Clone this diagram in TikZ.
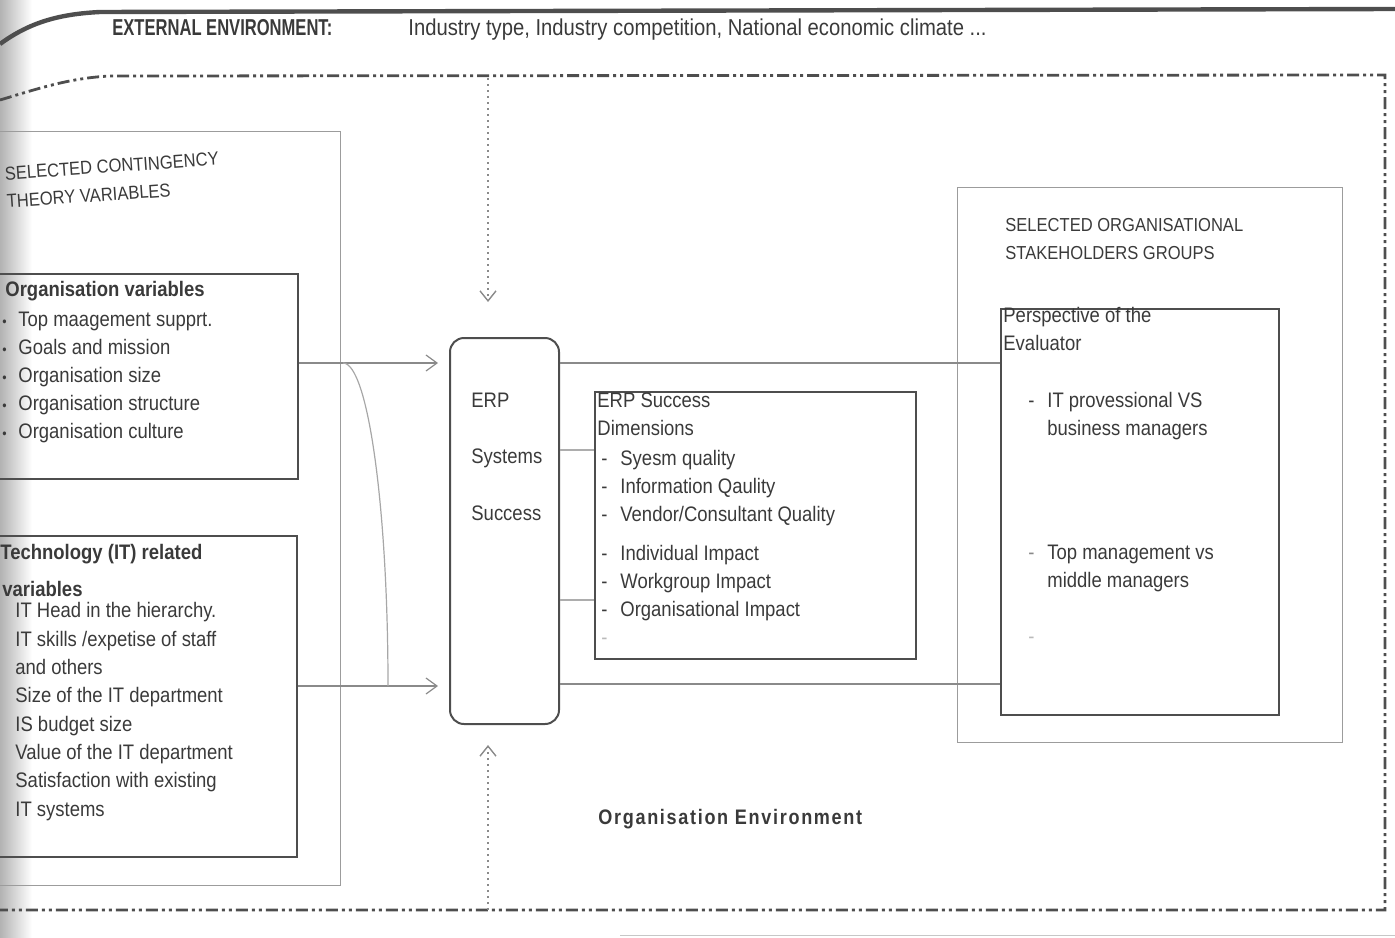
\documentclass[tikz,border=0pt]{standalone}
\usepackage{fontspec}
\setmainfont{Liberation Sans}
\newfontfamily\bodyf[FakeStretch=0.88]{Liberation Sans}
\newfontfamily\extf[FakeStretch=0.72]{Liberation Sans}
\newfontfamily\envf[FakeStretch=0.86,LetterSpace=8.0]{Liberation Sans}
\usetikzlibrary{arrows.meta,calc}
\definecolor{ink}{HTML}{3A3A3A}
\definecolor{frame}{HTML}{4E4E4E}
\definecolor{lightframe}{HTML}{9C9C9C}
\definecolor{wire}{HTML}{8A8A8A}

\begin{document}
\begin{tikzpicture}[x=0.5pt,y=-0.5pt,
  % base west of a multi-line node sits on the baseline of its last line
  txt/.style={inner sep=0pt,anchor=base west,align=left,text=ink,
    font=\bodyf\fontsize{10.5}{14}\selectfont},
  boldtxt/.style={txt,font=\bodyf\bfseries\fontsize{10.5}{14}\selectfont},
  captxt/.style={txt,font=\bodyf\fontsize{9.4}{14}\selectfont},
  darkbox/.style={draw=frame,line width=1pt,inner sep=0pt,anchor=north west},
  lightbox/.style={draw=lightframe,line width=0.7pt,inner sep=0pt,anchor=north west},
  wirel/.style={draw=wire,line width=0.6pt},
  arr/.style={wirel,-{Straight Barb[length=5.5pt,width=8pt]}},
  envline/.style={draw=frame,line width=1.4pt,
    dash pattern=on 6pt off 2pt on 1.5pt off 2pt on 1.5pt off 2pt},
  dotline/.style={draw=wire,line width=0.7pt,dash pattern=on 1pt off 2pt},
]
\useasboundingbox (0,0) rectangle (1395,937);
\clip (0,0) rectangle (1395,937);

% soft shadow along the left edge of the sheet
\shade[left color=black!30,right color=white] (0,0) rectangle (32,937);

% external environment banner
\draw[draw=frame,line width=2.2pt] (0,44) .. controls (30,22) and (60,14) .. (100,12) -- (1395,9);
\node[txt,font=\extf\bfseries\fontsize{11.5}{14}\selectfont] (ext) at (112,35) {EXTERNAL ENVIRONMENT:};
\node[txt,font=\bodyf\fontsize{11.5}{14}\selectfont] (factors) at (408,35)
  {Industry type, Industry competition, National economic climate ...};

% organisation environment frame
\draw[envline] (0,100) .. controls (40,88) and (70,78) .. (110,76) -- (1385,75) -- (1385,910) -- (0,910);
\draw[draw=black!22,line width=0.5pt] (620,935) -- (1395,935);

% boxes
\node[lightbox,minimum width=172.5pt,minimum height=377pt] (contbox) at (-5,131) {};
\node[darkbox,minimum width=151pt,minimum height=102.5pt] (orgbox) at (-5,273) {};
\node[darkbox,minimum width=150.5pt,minimum height=160.5pt] (techbox) at (-5,535) {};
\node[darkbox,rounded corners=7pt,minimum width=54.5pt,minimum height=193pt] (erp) at (449,337) {};
\node[darkbox,minimum width=160.5pt,minimum height=133.5pt] (dims) at (594,391) {};
\node[lightbox,minimum width=192.5pt,minimum height=277.5pt] (stake) at (957,187) {};
\node[darkbox,minimum width=139pt,minimum height=203pt] (persp) at (1000,308) {};

% contingency variables
\node[captxt,rotate=4] (conttitle) at (7,208) {SELECTED CONTINGENCY\\THEORY VARIABLES};
\node[boldtxt] (orghead) at (5,296) {Organisation variables};
\node[txt,font=\bodyf\fontsize{7}{14}\selectfont] (orgbul) at (2,438)
  {\textbullet\\\textbullet\\\textbullet\\\textbullet\\\textbullet};
\node[txt] (orglist) at (18,438)
  {Top maagement supprt.\\Goals and mission\\Organisation size\\Organisation structure\\Organisation culture};
\node[boldtxt] (techhead) at (0,559) {Technology (IT) related};
\node[boldtxt] (techhead2) at (2,596) {variables};
\node[txt,font=\bodyf\fontsize{10.5}{14.15}\selectfont] (techlist) at (15,816)
  {IT Head in the hierarchy.\\IT skills /expetise of staff\\and others\\Size of the IT department\\IS budget size\\Value of the IT department\\Satisfaction with existing\\IT systems};

% ERP systems success
\node[txt,font=\bodyf\fontsize{10.5}{28.25}\selectfont] (erptext) at (471,520) {ERP\\Systems\\Success};

% success dimensions
\node[txt] (dimhead) at (597,435) {ERP Success\\Dimensions};
\node[txt] (dimdash) at (601,616) {-\\-\\-\\[5.5pt]-\\-\\-};
\node[txt] (dimitems) at (620,616)
  {Syesm quality\\Information Qaulity\\Vendor/Consultant Quality\\[5.5pt]Individual Impact\\Workgroup Impact\\Organisational Impact};
\node[txt,text=ink!35] (dimdash2) at (601,644) {-};

% stakeholder groups
\node[captxt] (staketitle) at (1005,259) {SELECTED ORGANISATIONAL\\STAKEHOLDERS GROUPS};
\node[txt] (persphead) at (1003,350) {Perspective of the\\Evaluator};
\node[txt] (pdash1) at (1028,407) {-};
\node[txt] (pitem1) at (1047,435) {IT provessional VS\\business managers};
\node[txt,text=ink!60] (pdash2) at (1028,559) {-};
\node[txt] (pitem2) at (1047,587) {Top management vs\\middle managers};
\node[txt,text=ink!35] (pdash3) at (1028,643) {-};

\node[txt,font=\envf\bfseries\fontsize{10.5}{14}\selectfont] (orgenv) at (598,824) {Organisation Environment};

% connectors
\coordinate (yA) at (0,363);
\coordinate (yB) at (0,686);
\coordinate (yC) at (0,684);
\coordinate (yD) at (0,450);
\coordinate (yE) at (0,600);
\coordinate (cA) at (343,363);
\coordinate (cB) at (388,686);
\coordinate (envtop) at (488,78);
\coordinate (envbot) at (488,910);

\draw[arr,shorten >=5.5pt] (orgbox.east |- yA) -- (erp.west |- yA);
\draw[arr,shorten >=5.5pt] (techbox.east |- yB) -- (erp.west |- yB);
\draw[wirel,draw=wire!75] (cA) .. controls (368,363) and (388,508) .. (cB);

\draw[wirel] (erp.east |- yA) -- (persp.west |- yA);
\draw[wirel] (erp.east |- yC) -- (persp.west |- yC);
\draw[wirel,draw=wire!70] (erp.east |- yD) -- (dims.west |- yD);
\draw[wirel,draw=wire!70] (erp.east |- yE) -- (dims.west |- yE);

\draw[dotline,-{Straight Barb[length=5pt,width=8pt]},shorten >=17.5pt] (envtop) -- (envtop |- erp.north);
\draw[dotline,-{Straight Barb[length=5pt,width=8pt]},shorten >=10pt] (envbot) -- (envbot |- erp.south);
\end{tikzpicture}
\end{document}
